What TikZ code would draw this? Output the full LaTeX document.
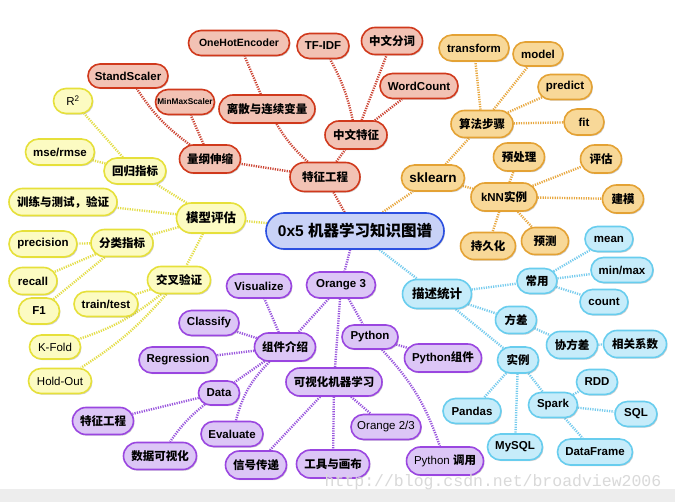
\documentclass[tikz,border=0pt]{standalone}
\usepackage{fontspec}
\setmainfont{Liberation Sans}
\newfontfamily\zhf{Noto Sans CJK SC}
\newfontfamily\wmf{Liberation Mono}
\usetikzlibrary{shapes.misc,shadows,backgrounds}
\definecolor{redF}{HTML}{F2C2B4}\definecolor{redD}{HTML}{D0391C}\definecolor{redL}{HTML}{CC4433}
\definecolor{orF}{HTML}{F8D898}\definecolor{orD}{HTML}{E4A234}\definecolor{orL}{HTML}{E8A840}
\definecolor{yeF}{HTML}{FCFBC2}\definecolor{yeD}{HTML}{E6E03A}\definecolor{yeL}{HTML}{E4DE48}
\definecolor{puF}{HTML}{DCC6F6}\definecolor{puD}{HTML}{9A46E0}\definecolor{puL}{HTML}{9955DD}
\definecolor{blF}{HTML}{C6ECFA}\definecolor{blD}{HTML}{68CDEE}\definecolor{blL}{HTML}{77CCEE}
\definecolor{ceF}{HTML}{C8D2F7}\definecolor{ceD}{HTML}{2B4FE0}
\newcommand\zh[1]{{\zhf\bfseries #1}}
\newcommand\N[7]{\node[#1, minimum width=#5pt, minimum height=#6pt] (#2) at (#3,#4) {#7};}
\tikzset{
  nd/.style={rounded rectangle, draw, line width=1.6pt, inner sep=0pt, text=black,
    font=\bfseries\fontsize{11.5}{13}\selectfont,
    drop shadow={shadow xshift=1pt, shadow yshift=-1.2pt, opacity=0.3, fill=black!60}},
  rn/.style={nd, fill=redF, draw=redD},
  on/.style={nd, fill=orF, draw=orD},
  yn/.style={nd, fill=yeF, draw=yeD},
  pn/.style={nd, fill=puF, draw=puD},
  bn/.style={nd, fill=blF, draw=blD},
  cn/.style={nd, fill=ceF, draw=ceD, font=\bfseries\fontsize{15.5}{17}\selectfont},
  ln/.style={line width=2.4pt, dash pattern=on 1.2pt off 1.2pt},
  rl/.style={ln, draw=redL},
  ol/.style={ln, draw=orL},
  yl/.style={ln, draw=yeL},
  pl/.style={ln, draw=puL},
  bl/.style={ln, draw=blL},
}
\begin{document}
\begin{tikzpicture}[x=1pt,y=-1pt]
\useasboundingbox (0,0) rectangle (675,502);
% center
\N{cn}{c}{355}{231}{178}{36}{0x5 \zh{机器学习知识图谱}}
% red
\N{rn}{tz}{325}{177}{70}{29}{\zh{特征工程}}
\N{rn}{lg}{210}{159}{61}{28}{\zh{量纲伸缩}}
\N{rn}{ss}{128}{76}{80}{24}{StandScaler}
\N{rn,font=\bfseries\fontsize{8.3}{10}\selectfont}{mm}{185}{102}{59}{25}{MinMaxScaler}
\N{rn,font=\bfseries\fontsize{10.5}{12}\selectfont}{oh}{239}{43}{101}{25}{OneHotEncoder}
\N{rn}{ls}{267}{109}{96}{28}{\zh{离散与连续变量}}
\N{rn}{tf}{323}{46}{52}{25}{TF-IDF}
\N{rn}{fc}{392}{41}{61}{27}{\zh{中文分词}}
\N{rn}{wc}{419}{86}{78}{25}{WordCount}
\N{rn}{zw}{356}{135}{62}{28}{\zh{中文特征}}
% orange
\N{on}{sk}{433}{178}{63}{26}{\fontsize{13.5}{15}\selectfont sklearn}
\N{on}{sf}{482}{124}{62}{27}{\zh{算法步骤}}
\N{on}{tr}{474}{48}{70}{26}{transform}
\N{on}{md}{538}{54}{50}{24}{model}
\N{on}{pr}{565}{87}{54}{25}{predict}
\N{on}{fi}{584}{122}{40}{26}{fit}
\N{on}{kn}{504}{197}{66}{28}{kNN\zh{实例}}
\N{on}{yc}{519}{157}{51}{28}{\zh{预处理}}
\N{on}{pg}{601}{159}{41}{28}{\zh{评估}}
\N{on}{jm}{623}{199}{41}{28}{\zh{建模}}
\N{on}{yz}{545}{241}{47}{27}{\zh{预测}}
\N{on}{cj}{488}{246}{55}{27}{\zh{持久化}}
% yellow
\N{yn,font=\bfseries\fontsize{12.5}{14}\selectfont}{mx}{211}{218}{69}{30}{\zh{模型评估}}
\N{yn}{hg}{135}{171}{62}{26}{\zh{回归指标}}
\N{yn}{r2}{73}{101}{39}{25}{\mdseries R\textsuperscript{2}}
\N{yn}{ms}{60}{152}{69}{26}{mse/rmse}
\N{yn}{xl}{63}{202}{108}{27}{\zh{训练与测试，验证}}
\N{yn}{fl}{122}{243}{62}{27}{\zh{分类指标}}
\N{yn}{pc}{43}{244}{68}{26}{precision}
\N{yn}{rc}{33}{281}{48}{27}{recall}
\N{yn}{f1}{39}{311}{41}{26}{F1}
\N{yn}{jc}{179}{280}{63}{27}{\zh{交叉验证}}
\N{yn}{tt}{106}{304}{64}{25}{train/test}
\N{yn,font=\mdseries\fontsize{11.5}{13}\selectfont}{kf}{55}{347}{51}{24}{K-Fold}
\N{yn,font=\mdseries\fontsize{11.5}{13}\selectfont}{ho}{60}{381}{63}{25}{Hold-Out}
% purple
\N{pn}{o3}{341}{285}{69}{26}{Orange 3}
\N{pn}{vi}{259}{286}{65}{24}{Visualize}
\N{pn}{zj}{285}{347}{61}{28}{\zh{组件介绍}}
\N{pn}{cl}{209}{323}{60}{25}{Classify}
\N{pn}{rg}{178}{360}{78}{26}{Regression}
\N{pn}{da}{219}{393}{41}{24}{Data}
\N{pn}{tg}{103}{421}{61}{27}{\zh{特征工程}}
\N{pn}{sj}{160}{456}{73}{27}{\zh{数据可视化}}
\N{pn}{ev}{232}{434}{62}{25}{Evaluate}
\N{pn}{xh}{256}{465}{61}{28}{\zh{信号传递}}
\N{pn}{ks}{334}{382}{96}{28}{\zh{可视化机器学习}}
\N{pn}{gj}{333}{464}{73}{28}{\zh{工具与画布}}
\N{pn,font=\mdseries\fontsize{11.5}{13}\selectfont}{o2}{386}{427}{70}{25}{Orange 2/3}
\N{pn}{py}{370}{337}{56}{24}{Python}
\N{pn}{pz}{443}{358}{77}{28}{Python\zh{组件}}
\N{pn,font=\mdseries\fontsize{11.5}{13}\selectfont}{pd}{445}{461}{77}{28}{Python \zh{调用}}
% blue
\N{bn,font=\bfseries\fontsize{12.5}{14}\selectfont}{ms2}{437}{294}{69}{29}{\zh{描述统计}}
\N{bn}{cy}{537}{281}{40}{25}{\zh{常用}}
\N{bn}{me}{609}{239}{48}{25}{mean}
\N{bn}{mn}{622}{270}{62}{25}{min/max}
\N{bn}{co}{604}{302}{48}{25}{count}
\N{bn}{fcz}{516}{320}{41}{27}{\zh{方差}}
\N{bn}{xf}{572}{345}{51}{27}{\zh{协方差}}
\N{bn}{xg}{635}{344}{63}{27}{\zh{相关系数}}
\N{bn}{sl}{518}{360}{41}{26}{\zh{实例}}
\N{bn}{pa}{472}{411}{58}{25}{Pandas}
\N{bn}{my}{515}{447}{55}{26}{MySQL}
\N{bn}{sp}{553}{405}{49}{25}{Spark}
\N{bn}{rd}{597}{382}{41}{25}{RDD}
\N{bn}{sq}{636}{414}{42}{25}{SQL}
\N{bn}{df}{595}{452}{75}{26}{DataFrame}
% watermark
\node[font=\wmf\fontsize{16.5}{18}\selectfont, text=black!15, inner sep=0pt] (wm) at (493,482) {http://blog.csdn.net/broadview2006};
\begin{scope}[on background layer]
\fill[white] (0,0) rectangle (675,502);
\fill[black!7] (0,489) rectangle (675,502);
% red
\draw[rl] (c) -- (tz);
\draw[rl] (tz) -- (lg);
\draw[rl] (tz) to[bend left=8] (ls);
\draw[rl] (tz) -- (zw);
\draw[rl] (lg) to[bend left=10] (ss);
\draw[rl] (lg) -- (mm);
\draw[rl] (ls) -- (oh);
\draw[rl] (zw) to[bend right=8] (tf);
\draw[rl] (zw) -- (fc);
\draw[rl] (zw) -- (wc);
% orange
\draw[ol] (c) -- (sk);
\draw[ol] (sk) -- (sf);
\draw[ol] (sf) -- (tr);
\draw[ol] (sf) -- (md);
\draw[ol] (sf) -- (pr);
\draw[ol] (sf) -- (fi);
\draw[ol] (sk) -- (kn);
\draw[ol] (kn) -- (yc);
\draw[ol] (kn) -- (pg);
\draw[ol] (kn) -- (jm);
\draw[ol] (kn) -- (yz);
\draw[ol] (kn) -- (cj);
% yellow
\draw[yl] (c) -- (mx);
\draw[yl] (mx) -- (hg);
\draw[yl] (mx) -- (xl);
\draw[yl] (mx) -- (fl);
\draw[yl] (mx) -- (jc);
\draw[yl] (hg) -- (r2);
\draw[yl] (hg) -- (ms);
\draw[yl] (fl) -- (pc);
\draw[yl] (fl) -- (rc);
\draw[yl] (fl) -- (f1);
\draw[yl] (jc) -- (tt);
\draw[yl] (jc) to[bend left=10] (kf);
\draw[yl] (jc) to[bend left=8] (ho);
% purple
\draw[pl] (c) -- (o3);
\draw[pl] (o3) -- (zj);
\draw[pl] (o3) -- (ks);
\draw[pl] (o3) -- (py);
\draw[pl] (zj) -- (vi);
\draw[pl] (zj) -- (cl);
\draw[pl] (zj) -- (rg);
\draw[pl] (zj) -- (da);
\draw[pl] (zj) to[bend right=15] (ev);
\draw[pl] (da) -- (tg);
\draw[pl] (da) to[bend right=8] (sj);
\draw[pl] (ks) -- (xh);
\draw[pl] (ks) -- (gj);
\draw[pl] (ks) -- (o2);
\draw[pl] (py) -- (pz);
\draw[pl] (py) to[bend left=12] (pd);
% blue
\draw[bl] (c) -- (ms2);
\draw[bl] (ms2) -- (cy);
\draw[bl] (ms2) -- (fcz);
\draw[bl] (ms2) -- (sl);
\draw[bl] (cy) -- (me);
\draw[bl] (cy) -- (mn);
\draw[bl] (cy) -- (co);
\draw[bl] (fcz) -- (xf);
\draw[bl] (xf) -- (xg);
\draw[bl] (sl) -- (pa);
\draw[bl] (sl) -- (my);
\draw[bl] (sl) -- (sp);
\draw[bl] (sp) -- (rd);
\draw[bl] (sp) -- (sq);
\draw[bl] (sp) -- (df);
\end{scope}
\end{tikzpicture}
\end{document}
